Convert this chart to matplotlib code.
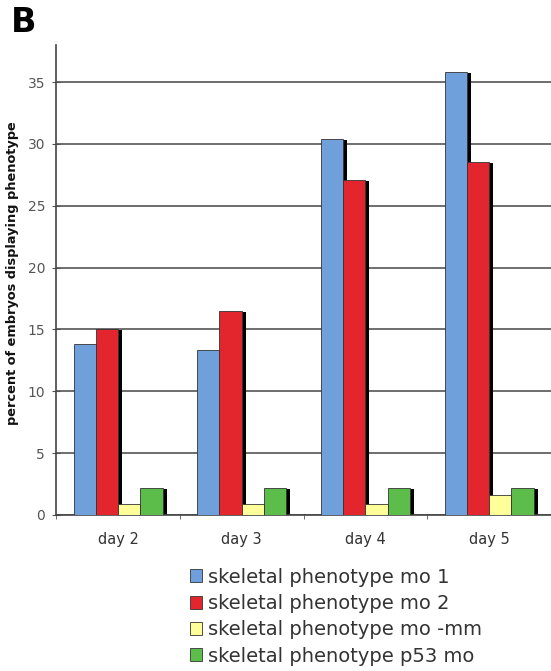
import numpy as np
import matplotlib.pyplot as plt
import matplotlib.transforms as mtransforms

days = ['day 2', 'day 3', 'day 4', 'day 5']
series_names = ['skeletal phenotype mo 1', 'skeletal phenotype mo 2',
                'skeletal phenotype mo -mm', 'skeletal phenotype p53 mo']
mo1 = [13.8, 13.3, 30.4, 35.8]
mo2 = [15.0, 16.5, 27.1, 28.5]
mo_mm = [0.9, 0.9, 0.9, 1.6]
p53 = [2.2, 2.2, 2.2, 2.2]
colors = ['#6fa0dc', '#e3262d', '#ffff99', '#5cbd4a']

fig = plt.figure(figsize=(5.51, 6.71), dpi=100)
ax = fig.add_axes([0.102, 0.2325, 0.898, 0.7005])

x = np.arange(len(days))
w = 0.18
series = [mo1, mo2, mo_mm, p53]
offsets = (np.arange(4) - 1.5) * w

# drop shadow, a few pixels right and down
shadow = mtransforms.offset_copy(ax.transData, fig=fig, x=4, y=-1, units='dots')
for vals, off in zip(series, offsets):
    ax.bar(x + off, vals, w, color='black', transform=shadow, zorder=2)

for vals, off, c, name in zip(series, offsets, colors, series_names):
    ax.bar(x + off, vals, w, color=c, edgecolor='#333333', linewidth=0.6,
           label=name, zorder=3)

ax.set_xlim(-0.5, 3.5)
ax.set_ylim(0, 38)
ax.set_yticks(range(0, 36, 5))
ax.yaxis.grid(True, color='#555555', linewidth=1.2, zorder=0)
ax.set_axisbelow(True)

ax.set_xticks(x)
ax.set_xticklabels(days)
ax.set_xticks(np.arange(-0.5, 4, 1), minor=True)
ax.tick_params(axis='x', which='major', length=0, pad=12, labelsize=10.5, labelcolor='#333333')
ax.tick_params(axis='x', which='minor', length=3, color='#555555')
ax.tick_params(axis='y', direction='inout', length=6, color='#555555', pad=5,
               labelsize=10, labelcolor='#555555')

for s in ['top', 'right']:
    ax.spines[s].set_visible(False)
for s in ['left', 'bottom']:
    ax.spines[s].set_color('#444444')
    ax.spines[s].set_linewidth(1.2)

ax.set_ylabel('percent of embryos displaying phenotype', fontsize=9.3,
              fontweight='bold', color='#111111')
ax.yaxis.set_label_coords(-0.075, 0.515)

fig.text(0.02, 0.966, 'B', fontsize=24, fontweight='bold', va='center')

handles, labels = ax.get_legend_handles_labels()
fig.legend(handles, labels, loc='upper left', bbox_to_anchor=(0.337, 0.16),
           frameon=False, fontsize=14, handlelength=0.65, handleheight=0.65,
           handletextpad=0.3, labelspacing=0.38, labelcolor='#333333',
           borderaxespad=0, borderpad=0.2)

fig.savefig('out.png', dpi=100)
